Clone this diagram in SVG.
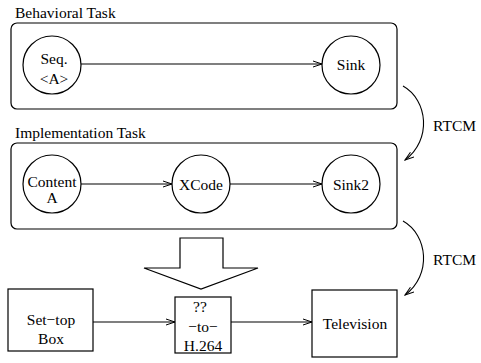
<svg xmlns="http://www.w3.org/2000/svg" width="481" height="363" viewBox="0 0 481 363">
<style>
text{font-family:"Liberation Serif",serif;font-size:15.5px;fill:#000}
.c{text-anchor:middle}
.sh{fill:none;stroke:#000;stroke-width:1.2}
.ln{fill:none;stroke:#000;stroke-width:1.1}
</style>
<defs>
<marker id="ah" markerWidth="10" markerHeight="8" refX="9" refY="4" orient="auto" markerUnits="userSpaceOnUse">
<path d="M0,1 L9,4 L0,7" fill="none" stroke="#000" stroke-width="1"/>
</marker>
</defs>
<rect width="481" height="363" fill="#fff"/>
<g font-family="Liberation Serif, serif">
<g id="behavioral-task">
<text x="15" y="18">Behavioral Task</text>
<rect class="sh" x="11" y="23" width="386" height="86" rx="6"/>
</g>
<g id="seq">
<circle class="sh" cx="52" cy="65" r="29"/>
<text class="c" x="54" y="64">Seq.</text>
<text class="c" x="54" y="84">&lt;A&gt;</text>
</g>
<g id="sink">
<circle class="sh" cx="351" cy="65" r="29"/>
<text class="c" x="351" y="70">Sink</text>
</g>
<g id="implementation-task">
<text x="15" y="138">Implementation Task</text>
<rect class="sh" x="11" y="143" width="386" height="86" rx="6"/>
</g>
<g id="content-a">
<circle class="sh" cx="52" cy="184" r="29"/>
<text class="c" x="52" y="187">Content</text>
<text class="c" x="52" y="203">A</text>
</g>
<g id="xcode">
<circle class="sh" cx="201" cy="184" r="29"/>
<text class="c" x="201" y="190">XCode</text>
</g>
<g id="sink2">
<circle class="sh" cx="351" cy="184" r="29"/>
<text class="c" x="351" y="190">Sink2</text>
</g>
<g id="refinement-arrow">
<polygon class="sh" points="180,238 223,238 223,268 258,268 201,289 144,268 180,268"/>
</g>
<g id="set-top-box">
<rect class="sh" x="8" y="289" width="85" height="62"/>
<text class="c" x="51" y="325">Set−top</text>
<text class="c" x="51" y="344">Box</text>
</g>
<g id="transcoder">
<rect class="sh" x="175" y="297" width="56" height="56"/>
<text class="c" x="200" y="312">??</text>
<text class="c" x="203" y="332">−to−</text>
<text class="c" x="203" y="351">H.264</text>
</g>
<g id="television">
<rect class="sh" x="312" y="290" width="85" height="67"/>
<text class="c" x="355" y="329">Television</text>
</g>
<g id="connectors">
<line class="ln" x1="81" y1="64" x2="322" y2="64" marker-end="url(#ah)"/>
<line class="ln" x1="81" y1="184" x2="172" y2="184" marker-end="url(#ah)"/>
<line class="ln" x1="230" y1="184" x2="322" y2="184" marker-end="url(#ah)"/>
<line class="ln" x1="93" y1="322" x2="175" y2="322" marker-end="url(#ah)"/>
<line class="ln" x1="231" y1="322" x2="312" y2="322" marker-end="url(#ah)"/>
<path class="ln" d="M403,86 C428,100 432,140 405,160" marker-end="url(#ah)"/>
<path class="ln" d="M403,221 C428,235 432,275 405,295" marker-end="url(#ah)"/>
<text x="433" y="131">RTCM</text>
<text x="433" y="265">RTCM</text>
</g>
</g>
</svg>
